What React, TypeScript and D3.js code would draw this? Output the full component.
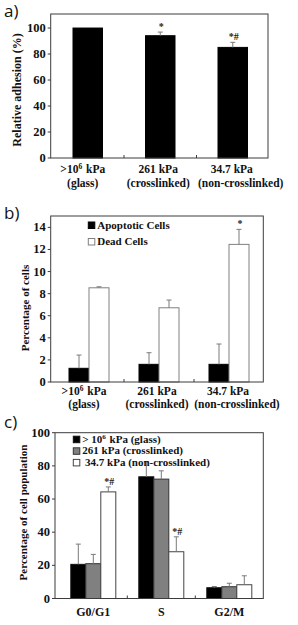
import * as d3 from "d3";
import { useEffect, useRef } from "react";

// substrates (x categories for panels a and b)
const stiffnessLabels = [">10^6 kPa", "261 kPa", "34.7 kPa"];
const materialLabels = ["(glass)", "(crosslinked)", "(non-crosslinked)"];

// a) relative adhesion (%)
const adhesion = [100, 94.1, 85.1];
const adhesionErr = [0, 2.8, 3.9];
const adhesionSig = ["", "*", "*#"];

// b) percentage of cells
const apoptotic = [1.24, 1.6, 1.6];
const apoptoticErr = [1.2, 1.05, 1.84];
const dead = [8.53, 6.72, 12.46];
const deadErr = [0.09, 0.7, 1.36];
const deadSig = ["", "", "*"];
const legendB = ["Apoptotic Cells", "Dead Cells"];

// c) cell cycle distribution
const phases = ["G0/G1", "S", "G2/M"];
const glassCycle = [20.6, 73.4, 6.5];
const glassCycleErr = [12.2, 9.0, 0.7];
const crossCycle = [21, 72, 7.1];
const crossCycleErr = [5.6, 5.0, 2.1];
const nonCrossCycle = [64.3, 28.2, 8.3];
const nonCrossCycleErr = [3.0, 9.0, 5.4];
const nonCrossSig = ["*#", "*#", ""];
const legendC = ["> 10^6 kPa (glass)", "261 kPa (crosslinked)", " 34.7 kPa (non-crosslinked)"];

const SERIF = "'Liberation Serif', 'Times New Roman', serif";
const SANS = "'Open Sans', 'Liberation Sans', sans-serif";

// writes text, turning "^6" into a superscript
const supText = (sel, str, size) => {
  const parts = str.split(/\^(\d)/);
  parts.forEach((p, i) => {
    if (p === "") return;
    if (i % 2 === 1) {
      sel.append("tspan").attr("font-size", size * 0.65).attr("dy", -size * 0.38).text(p);
      sel.append("tspan").attr("font-size", size).attr("dy", size * 0.38).text("\u200a");
    } else {
      sel.append("tspan").text(p);
    }
  });
};

const drawPanel = (svg, o) => {
  const g = svg.append("g");
  const y = d3.scaleLinear().domain([0, o.yMax]).range([o.bottom, o.top]);
  const x = d3.scaleBand().domain(o.cats).range(o.band);
  const n = o.series.length;
  const inner = d3.scaleBand().domain(d3.range(n)).range([-o.barW * n / 2, o.barW * n / 2]);

  // bars
  o.series.forEach((s, si) => {
    g.selectAll(null).data(s.values).enter().append("rect")
      .attr("x", (d, i) => x(o.cats[i]) + x.bandwidth() / 2 + inner(si))
      .attr("y", d => y(d))
      .attr("width", inner.bandwidth())
      .attr("height", d => o.bottom - y(d))
      .attr("fill", s.fill)
      .attr("stroke", s.stroke)
      .attr("stroke-width", 1);
  });

  // error bars (upper only) and significance marks
  o.series.forEach((s, si) => {
    s.values.forEach((v, i) => {
      const cx = x(o.cats[i]) + x.bandwidth() / 2 + inner(si) + inner.bandwidth() / 2;
      const e = s.err[i];
      if (e > 0) {
        g.append("line").attr("x1", cx).attr("x2", cx).attr("y1", y(v)).attr("y2", y(v + e))
          .attr("stroke", "#7a7a7a").attr("stroke-width", 1);
        g.append("line").attr("x1", cx - 2.5).attr("x2", cx + 2.5).attr("y1", y(v + e)).attr("y2", y(v + e))
          .attr("stroke", "#7a7a7a").attr("stroke-width", 1);
      }
      if (s.sig && s.sig[i]) {
        g.append("text").attr("x", cx + 1).attr("y", y(v + e) - 2)
          .attr("text-anchor", "middle").attr("font-family", SERIF).attr("font-weight", "bold")
          .attr("font-size", 10).attr("fill", "#222").text(s.sig[i]);
      }
    });
  });

  // frame
  g.append("rect").attr("x", o.left).attr("y", o.top)
    .attr("width", o.right - o.left).attr("height", o.bottom - o.top)
    .attr("fill", "none").attr("stroke", "#3c3c3c").attr("stroke-width", 1);

  // y ticks
  const ticks = d3.range(0, o.tickMax + 0.001, o.tickStep);
  ticks.forEach(t => {
    g.append("line").attr("x1", o.left - 3).attr("x2", o.left).attr("y1", y(t)).attr("y2", y(t))
      .attr("stroke", "#3c3c3c");
    g.append("text").attr("x", o.left - 5).attr("y", y(t) + 4)
      .attr("text-anchor", "end").attr("font-family", SERIF).attr("font-weight", "bold")
      .attr("font-size", 12.5).attr("fill", "#111").text(t);
  });

  // small ticks between categories
  o.cats.slice(1).forEach(c => {
    g.append("line").attr("x1", x(c)).attr("x2", x(c)).attr("y1", o.bottom).attr("y2", o.bottom - 3)
      .attr("stroke", "#3c3c3c");
  });

  // x labels
  o.xLines.forEach((line, li) => {
    line.forEach((lab, i) => {
      const shift = o.xShift ? o.xShift[li][i] : 0;
      const t = g.append("text").attr("x", x(o.cats[i]) + x.bandwidth() / 2 + shift)
        .attr("y", o.bottom + o.xLineY[li])
        .attr("text-anchor", "middle").attr("font-family", SERIF).attr("font-weight", "bold")
        .attr("font-size", o.xFont).attr("fill", "#111");
      supText(t, lab, o.xFont);
    });
  });

  // y label
  g.append("text")
    .attr("transform", `translate(${o.yLabelX},${o.yLabelY}) rotate(-90)`)
    .attr("text-anchor", "middle").attr("font-family", SERIF).attr("font-weight", "bold")
    .attr("font-size", o.yLabelSize).attr("fill", "#111").text(o.yLabel);

  // panel title
  g.append("text").attr("x", 4).attr("y", o.titleY)
    .attr("font-family", SANS).attr("font-size", 17).attr("fill", "#111").text(o.title);

  // legend
  if (o.legend) {
    o.legend.labels.forEach((lab, i) => {
      const s = o.series[i];
      const ly = o.legend.y + i * o.legend.step;
      g.append("rect").attr("x", o.legend.x).attr("y", ly - 6.5).attr("width", 6.5).attr("height", 6.5)
        .attr("fill", s.fill).attr("stroke", s.stroke);
      const t = g.append("text").attr("x", o.legend.x + 9).attr("y", ly)
        .attr("font-family", SERIF).attr("font-weight", "bold").attr("font-size", o.legend.size)
        .attr("fill", "#111").attr("xml:space", "preserve");
      supText(t, lab, o.legend.size);
    });
  }
};

const App = () => {
  const ref = useRef(null);

  useEffect(() => {
    const svg = d3.select(ref.current);
    svg.selectAll("*").remove();

    const subs = stiffnessLabels.map((d, i) => "s" + i);
    const subShift = [[-5, -2, -1], [-5, -2, 8]];

    drawPanel(svg, {
      left: 50.7, right: 268, top: 14, bottom: 158,
      band: [51.5, 269], yMax: 110.8, tickMax: 100, tickStep: 20,
      cats: subs, barW: 29.5,
      series: [{ values: adhesion, err: adhesionErr, sig: adhesionSig, fill: "#000", stroke: "#000" }],
      xLines: [stiffnessLabels, materialLabels], xLineY: [15, 29], xFont: 11.5, xShift: subShift,
      yLabel: "Relative adhesion (%)", yLabelX: 20.5, yLabelY: 90, yLabelSize: 12,
      title: "a)", titleY: 17,
    });

    drawPanel(svg, {
      left: 50.7, right: 263.3, top: 216, bottom: 382,
      band: [54, 264], yMax: 15.03, tickMax: 14, tickStep: 2,
      cats: subs, barW: 20,
      series: [
        { values: apoptotic, err: apoptoticErr, fill: "#000", stroke: "#000" },
        { values: dead, err: deadErr, sig: deadSig, fill: "#fff", stroke: "#808080" },
      ],
      xLines: [stiffnessLabels, materialLabels], xLineY: [13, 26], xFont: 11.5, xShift: subShift,
      yLabel: "Percentage of cells", yLabelX: 29, yLabelY: 308, yLabelSize: 11,
      title: "b)", titleY: 219,
      legend: { labels: legendB, x: 88.3, y: 228.5, step: 16.5, size: 11 },
    });

    drawPanel(svg, {
      left: 55, right: 263.3, top: 432.7, bottom: 598.5,
      band: [59.3, 263.3], yMax: 100, tickMax: 100, tickStep: 20,
      cats: phases, barW: 15,
      series: [
        { values: glassCycle, err: glassCycleErr, fill: "#000", stroke: "#111" },
        { values: crossCycle, err: crossCycleErr, fill: "#808080", stroke: "#333" },
        { values: nonCrossCycle, err: nonCrossCycleErr, sig: nonCrossSig, fill: "#fff", stroke: "#444" },
      ],
      xLines: [phases], xLineY: [17], xFont: 12,
      yLabel: "Percentage of cell population", yLabelX: 26.5, yLabelY: 512.5, yLabelSize: 11,
      title: "c)", titleY: 428,
      legend: { labels: legendC, x: 73.3, y: 442.7, step: 11.6, size: 11 },
    });
  }, []);

  return (
    <svg ref={ref} width={298} height={625}
      style={{ position: "absolute", left: 0, top: 0, background: "#fff" }} />
  );
};

export default App;
